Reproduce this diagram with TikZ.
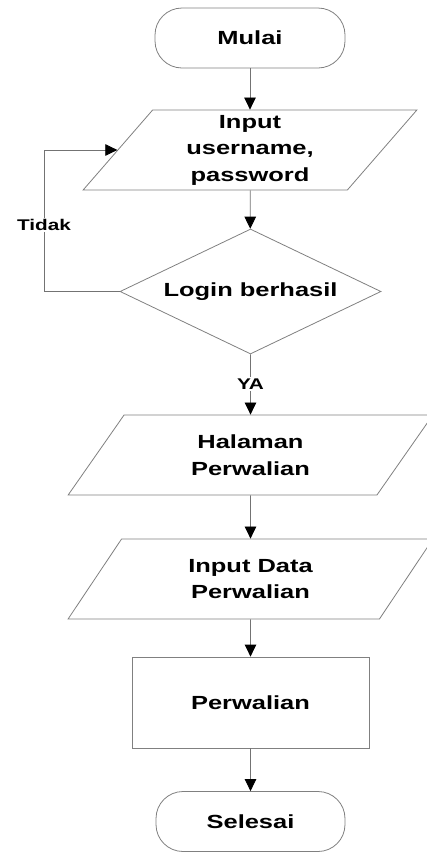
\documentclass[tikz,border=0pt]{standalone}
\usepackage{fontspec}
\setmainfont{Liberation Sans}[FakeStretch=1.34]
\usetikzlibrary{shapes.geometric,arrows.meta}

\tikzset{
  shapeline/.style={draw=black!50, line width=0.8pt, fill=white, inner sep=0pt,
    font=\fontsize{19pt}{26.5pt}\selectfont\bfseries, align=center, text=black},
  terminal/.style={shapeline, rectangle, rounded corners=27pt,
    minimum width=190pt, minimum height=60pt},
  iobox/.style={shapeline, trapezium, trapezium left angle=57, trapezium right angle=123,
    trapezium stretches=true, minimum height=80pt},
  decision/.style={shapeline, diamond, aspect=2, minimum width=261pt, minimum height=125pt},
  process/.style={shapeline, rectangle, minimum width=237pt, minimum height=91pt},
  conn/.style={draw=black!55, line width=0.8pt, -{Triangle[length=12pt,width=11.5pt,color=black]}},
  lbl/.style={fill=white, inner sep=1.5pt, text=black,
    font=\fontsize{15.5pt}{18pt}\selectfont\bfseries},
}

\begin{document}
\begin{tikzpicture}[x=1pt, y=-1pt]
  % page frame
  \useasboundingbox (0,0) rectangle (427,852);

  % flowchart symbols
  \node[terminal] (start) at (250,38) {Mulai};
  \node[iobox, minimum width=334pt] (login) at (250,150) {Input\\username,\\password};
  \node[decision] (check) at (250.5,291.5) {Login berhasil};
  \node[iobox, minimum width=365pt] (page) at (250.5,455) {Halaman\\Perwalian};
  \node[iobox, minimum width=365pt] (data) at (250.5,579) {Input Data\\Perwalian};
  \node[process] (proc) at (250.5,702.5) {Perwalian};
  \node[terminal, minimum width=189pt] (stop) at (250.5,821.5) {Selesai};

  % corner of the retry loop
  \coordinate (loopcorner) at (44,291.5);

  % connectors
  \draw[conn] (start) -- (login);
  \draw[conn] (login) -- (check);
  \draw[conn] (check.west) -- (loopcorner) |- node[lbl, pos=0.235] {Tidak} (login.west);
  \draw[conn] (check.south) -- node[lbl, pos=0.49] {YA} (page.north);
  \draw[conn] (page) -- (data);
  \draw[conn] (data) -- (proc);
  \draw[conn] (proc) -- (stop);
\end{tikzpicture}
\end{document}
